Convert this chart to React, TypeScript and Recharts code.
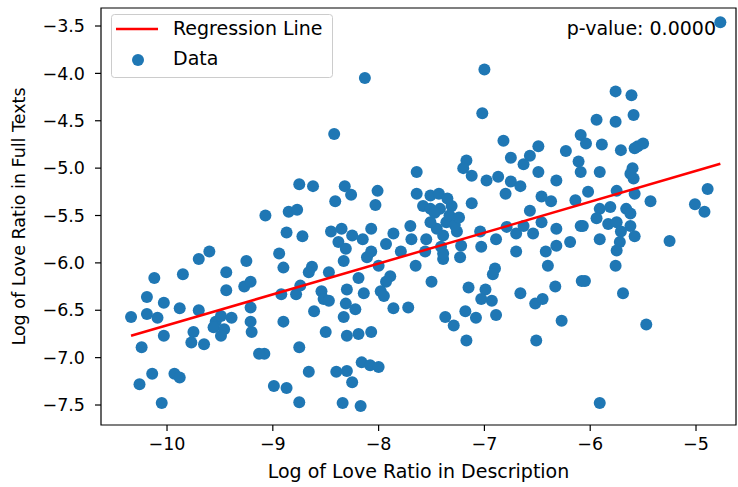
import React from 'react';
import { ScatterChart, Scatter, XAxis, YAxis, ReferenceArea, Label } from 'recharts';

// Log of love ratio in description (x) and in full texts (y)
const descLog: number[] = [
  -8.13, -8.42, -7.64, -8.75, -8.62, -8.32, -8.26, -8.01, -8.41, -8.03, -7.64, -7.58, -8.85, -8.77, -9.07,
  -7.0, -7.02, -6.82, -6.49, -6.57, -6.75, -6.63, -6.23, -6.09, -6.11, -6.09, -7.17, -7.2, -7.12, -6.49,
  -6.98, -6.87, -6.75, -6.8, -6.66, -6.32, -6.46, -6.37, -6.57, -7.12, -7.31, -6.14, -7.51, -7.43, -7.51, -7.42,
  -4.77, -5.76, -5.61, -5.94, -5.76, -5.59, -6.04, -5.89, -5.71, -5.55, -5.5, -5.58, -5.91, -5.6, -5.59,
  -5.62, -6.02, -5.75, -5.58, -5.43, -5.01, -4.89, -4.92, -5.91, -5.81, -5.66, -5.62,
  -5.94, -5.83, -5.75, -5.62, -5.58, -6.07, -5.91, -5.71, -5.72, -5.75, -5.76, -5.25, -6.05, -5.69, -5.47, -5.91,
  -7.5, -7.56, -7.39, -7.39, -7.41, -7.23, -7.22, -7.26, -7.39, -7.55, -7.45, -7.51, -7.36, -7.04, -7.03,
  -6.89, -6.79, -6.7, -6.54, -6.63, -6.7, -6.42, -6.4, -6.32, -6.19, -6.32, -6.09, -6.46, -6.9, -6.92,
  -7.15, -6.99, -7.03, -6.93, -7.18, -7.37, -7.29, -7.08, -6.89, -6.66, -6.52, -6.45, -6.33, -6.27, -7.17, -6.51, -6.08,
  -8.87, -8.72, -8.45, -8.35, -8.38, -8.25, -8.15, -8.07, -8.31, -8.33, -8.11, -8.07, -8.0, -7.93, -7.86,
  -7.7, -7.69, -7.79, -7.65, -8.94, -8.9, -8.63, -8.66, -8.47, -8.19, -7.89, -7.93, -7.98, -7.95, -8.92,
  -8.78, -8.74, -8.54, -8.52, -8.47, -8.3, -8.14, -8.31, -8.22, -8.61, -8.33, -7.86, -7.72, -8.9, -8.5,
  -8.3, -8.19, -8.07, -8.75, -9.08, -8.16, -8.08, -8.0, -8.66, -8.4, -8.3, -8.25, -8.99, -8.87, -8.75, -8.34, -8.17,
  -9.7, -9.6, -9.25, -10.12, -9.85, -9.44, -9.44, -9.27, -9.21, -10.19, -10.03, -9.88, -9.7, -9.21,
  -10.34, -10.19, -10.09, -9.54, -9.49, -9.39, -9.56, -9.46, -9.21, -9.2, -9.75, -9.49, -10.03, -9.77, -9.65,
  -10.24, -9.13, -10.14, -9.93, -9.88, -10.26, -10.05,
  -7.33, -7.28, -7.47, -7.35, -7.24,
];
const fullLog: number[] = [
  -4.05, -4.64, -5.04, -5.17, -5.19, -5.19, -5.28, -5.24, -5.35, -5.39, -5.27, -5.4, -5.46, -5.44, -5.5,
  -3.96, -4.42, -4.71, -4.77, -4.87, -4.89, -4.96, -4.82, -4.65, -4.93, -5.04, -4.92, -5.0, -5.08, -5.04,
  -5.13, -5.09, -5.14, -5.27, -5.19, -5.13, -5.3, -5.35, -5.45, -5.37, -5.4, -5.34, -5.29, -5.27, -5.43, -5.43,
  -3.46, -4.19, -4.23, -4.49, -4.51, -4.44, -4.74, -4.75, -4.81, -4.77, -4.74, -4.79, -5.04, -5.0, -5.11,
  -5.06, -5.25, -5.24, -5.27, -5.35, -5.38, -5.22, -5.46, -5.43, -5.41, -5.43, -5.48,
  -5.53, -5.59, -5.57, -5.61, -5.72, -5.61, -5.75, -5.67, -5.78, -5.87, -6.03, -5.77, -6.19, -6.32, -6.65, -7.48,
  -6.2, -5.88, -5.96, -5.9, -5.83, -5.94, -5.82, -5.67, -5.71, -5.75, -5.64, -5.57, -5.57, -5.67, -5.83,
  -5.75, -5.62, -5.69, -5.69, -5.61, -5.88, -5.88, -6.03, -5.82, -5.78, -5.64, -5.61, -5.57, -6.06, -6.12,
  -6.26, -6.28, -6.38, -6.4, -6.51, -6.57, -6.66, -6.58, -6.55, -6.32, -6.43, -6.38, -6.25, -6.61, -6.82, -6.82, -6.19,
  -5.68, -5.72, -5.67, -5.64, -5.78, -5.71, -5.75, -5.64, -5.85, -5.98, -5.94, -5.88, -6.03, -5.8, -5.69,
  -5.61, -5.75, -5.88, -6.03, -5.9, -6.05, -6.04, -6.1, -6.1, -6.16, -6.14, -6.2, -6.3, -6.35, -6.33,
  -6.33, -6.24, -6.3, -6.38, -6.4, -6.28, -6.32, -6.43, -6.49, -6.51, -6.57, -6.48, -6.47, -6.62, -6.73,
  -6.77, -6.75, -6.73, -6.89, -6.96, -7.05, -7.08, -7.1, -7.15, -7.15, -7.14, -7.26, -7.3, -7.32, -7.47, -7.48, -7.51,
  -5.96, -5.88, -5.98, -6.16, -6.12, -6.1, -6.29, -6.25, -6.2, -6.36, -6.42, -6.48, -6.5, -6.47,
  -6.57, -6.54, -6.58, -6.62, -6.56, -6.58, -6.68, -6.7, -6.62, -6.73, -6.73, -6.77, -6.77, -6.84, -6.86,
  -6.89, -6.96, -7.17, -7.17, -7.21, -7.28, -7.48,
  -5.5, -5.6, -5.47, -5.32, -5.52,
];

const xTicks = [-10, -9, -8, -7, -6, -5];
const yTicks = [-7.5, -7.0, -6.5, -6.0, -5.5, -5.0, -4.5, -4.0, -3.5];
const xDomain: [number, number] = [-10.624, -4.622];
const yDomain: [number, number] = [-7.711, -3.31];

// regression fit
const slope = 0.326;
const intercept = -3.399;
const pValueLabel = 'p-value: 0.0000';
const xLabel = 'Log of Love Ratio in Description';
const yLabel = 'Log of Love Ratio in Full Texts';

const points = descLog.map((x, i) => ({ x, y: fullLog[i] }));
const xMin = Math.min(...descLog);
const xMax = Math.max(...descLog);
const lineData = [
  { x: xMin, y: intercept + slope * xMin },
  { x: xMax, y: intercept + slope * xMax },
];

const FONT = 'DejaVu Sans, sans-serif';
const FS = 17.5;
const FL = 19;
const BLUE = '#1f77b4';

const minus = (s: string) => s.replace('-', '\u2212');
const fmtX = (v: number) => minus(String(v));
const fmtY = (v: number) => minus(v.toFixed(1));

const Dot = (p: any) => <circle cx={p.cx} cy={p.cy} r={6} fill={BLUE} />;
const NoDot = () => <g />;

export default function App() {
  return (
    <div style={{ position: 'absolute', left: 0, top: 0, width: 738, height: 487, background: '#fff' }}>
      <ScatterChart width={738} height={487} margin={{ top: 8, right: 2, bottom: 0, left: 0 }}>
        <XAxis
          type="number"
          dataKey="x"
          domain={xDomain}
          ticks={xTicks}
          interval={0}
          allowDataOverflow
          height={62}
          axisLine={false}
          tickLine={{ stroke: '#000', strokeWidth: 1.2 }}
          tickSize={6}
          tickMargin={7}
          tickFormatter={fmtX}
          tick={{ fill: '#000', fontSize: FS, fontFamily: FONT }}
        >
          <Label
            content={(props: any) => {
              const vb = props.viewBox;
              return (
                <text x={vb.x + vb.width / 2} y={478} textAnchor="middle" fill="#000" fontSize={FL} fontFamily={FONT}>
                  {xLabel}
                </text>
              );
            }}
          />
        </XAxis>
        <YAxis
          type="number"
          dataKey="y"
          domain={yDomain}
          ticks={yTicks}
          interval={0}
          allowDataOverflow
          width={101}
          axisLine={false}
          tickLine={{ stroke: '#000', strokeWidth: 1.2 }}
          tickSize={6}
          tickMargin={10}
          tickFormatter={fmtY}
          tick={{ fill: '#000', fontSize: FS, fontFamily: FONT }}
        >
          <Label
            content={(props: any) => {
              const vb = props.viewBox;
              const cy = vb.y + vb.height / 2;
              return (
                <text
                  x={25}
                  y={cy}
                  transform={`rotate(-90, 25, ${cy})`}
                  textAnchor="middle"
                  fill="#000"
                  fontSize={FS}
                  fontFamily={FONT}
                >
                  {yLabel}
                </text>
              );
            }}
          />
        </YAxis>
        <Scatter data={points} shape={Dot} isAnimationActive={false} />
        <Scatter
          data={lineData}
          shape={NoDot}
          line={{ stroke: '#ff0000', strokeWidth: 2.5 }}
          fill="#ff0000"
          isAnimationActive={false}
        />
        <ReferenceArea
          x1={xDomain[0]}
          x2={xDomain[1]}
          y1={yDomain[0]}
          y2={yDomain[1]}
          fill="none"
          fillOpacity={0}
          stroke="#000"
          strokeWidth={1.2}
          ifOverflow="visible"
        />
      </ScatterChart>
      <svg width={738} height={487} style={{ position: 'absolute', left: 0, top: 0, pointerEvents: 'none' }}>
        <rect x={111.5} y={14.5} width={221} height={63} rx={3} fill="#ffffff" fillOpacity={0.8} stroke="#cccccc" />
        <line x1={116} x2={158} y1={29} y2={29} stroke="#ff0000" strokeWidth={2.5} />
        <circle cx={138} cy={60} r={6} fill={BLUE} />
        <text x={173} y={35} fill="#000" fontSize={FL} fontFamily={FONT}>Regression Line</text>
        <text x={173} y={65} fill="#000" fontSize={FL} fontFamily={FONT}>Data</text>
        <text x={716} y={35} textAnchor="end" fill="#000" fontSize={FL} fontFamily={FONT}>{pValueLabel}</text>
      </svg>
    </div>
  );
}
